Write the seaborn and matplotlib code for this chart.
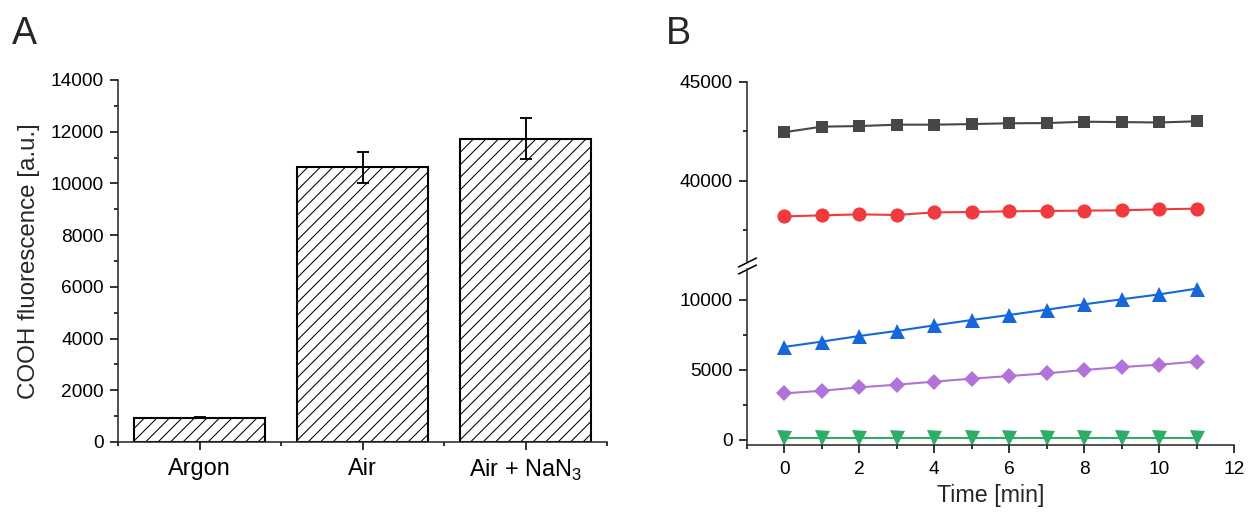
"""
plot.py

Two panel figure:
    A - COOH fluorescence per atmosphere (hatched bars + error bars)
    B - fluorescence vs time, broken y-axis
"""

import numpy as np
import pandas as pd
import matplotlib
matplotlib.use('Agg')
import matplotlib.pyplot as plt
from matplotlib.ticker import MultipleLocator, FixedLocator
import seaborn as sns

# ---------------------------- DATA -----------------------------------

# panel A
conditions = ["Argon", "Air", "Air + NaN$_\\mathregular{3}$"]
cooh_mean = [930, 10620, 11730]
cooh_err = [20, 600, 800]

# panel B
time_min = [0, 1, 2, 3, 4, 5, 6, 7, 8, 9, 10, 11]
s_black = [42450, 42730, 42760, 42830, 42830, 42860, 42900, 42910, 42980, 42960, 42940, 43000]
s_red = [38200, 38250, 38300, 38270, 38400, 38420, 38455, 38470, 38490, 38505, 38555, 38590]
s_blue = [6650, 7030, 7430, 7790, 8190, 8570, 8930, 9310, 9690, 10050, 10400, 10810]
s_purple = [3330, 3520, 3760, 3950, 4170, 4380, 4570, 4760, 5000, 5210, 5380, 5600]
s_green = [130, 130, 130, 130, 130, 130, 130, 130, 130, 130, 130, 130]

# ---------------------------- STYLE ----------------------------------

DPI = 150
FONT = "Liberation Sans"
TICK_FS = 9.2
LABEL_FS = 11.6

sns.set_theme(style="ticks")
plt.rcParams['font.family'] = [FONT, 'DejaVu Sans']
plt.rcParams['mathtext.fontset'] = 'custom'
plt.rcParams['mathtext.rm'] = FONT
plt.rcParams['hatch.linewidth'] = 0.5
plt.rcParams['axes.linewidth'] = 0.75
for ax_name in ("xtick", "ytick"):
    plt.rcParams[f'{ax_name}.direction'] = 'out'
    plt.rcParams[f'{ax_name}.major.width'] = 0.75
    plt.rcParams[f'{ax_name}.minor.width'] = 0.75
    plt.rcParams[f'{ax_name}.major.size'] = 3.8
    plt.rcParams[f'{ax_name}.minor.size'] = 2.0
    plt.rcParams[f'{ax_name}.labelsize'] = TICK_FS
    plt.rcParams[f'{ax_name}.color'] = 'black'
    plt.rcParams[f'{ax_name}.labelcolor'] = 'black'

W, H = 1248, 519
fig = plt.figure(figsize=(W / DPI, H / DPI), dpi=DPI)


def rect(x0, y0, x1, y1):
    # pixel box (top-left origin) -> figure fraction
    return [x0 / W, 1 - y1 / H, (x1 - x0) / W, (y1 - y0) / H]


# ---------------------------- PANEL A --------------------------------

axA = fig.add_axes(rect(118, 80, 607, 442))
dfA = pd.DataFrame({"condition": conditions, "value": cooh_mean})
sns.barplot(data=dfA, x="condition", y="value", ax=axA, color="white",
            edgecolor="black", linewidth=1.0, width=0.8, errorbar=None)
for bar in axA.patches:
    bar.set_hatch("////")
    bar.set_facecolor("white")
axA.errorbar(range(len(conditions)), cooh_mean, yerr=cooh_err, fmt="none",
             ecolor="black", elinewidth=0.9, capsize=3, capthick=0.9)

axA.set_xlim(-0.5, 2.5)
axA.set_ylim(0, 14000)
axA.yaxis.set_major_locator(MultipleLocator(2000))
axA.yaxis.set_minor_locator(MultipleLocator(1000))
axA.xaxis.set_minor_locator(FixedLocator([-0.5, 0.5, 1.5, 2.5]))
axA.set_xlabel("")
axA.set_ylabel("COOH fluorescence [a.u.]", fontsize=LABEL_FS, labelpad=5)
axA.tick_params(axis="x", which="major", pad=4, labelsize=11.3)
axA.tick_params(axis="y", pad=3)
sns.despine(ax=axA)

fig.text(12 / W, 1 - 44 / H, "A", fontsize=18)

# ---------------------------- PANEL B --------------------------------

axBt = fig.add_axes(rect(747, 81.7, 1234, 261.9))
axBb = fig.add_axes(rect(747, 269.2, 1234, 444.9))

series = [
    (axBt, s_black, "#474747", "s", 6.0),
    (axBt, s_red, "#f03a3d", "o", 6.8),
    (axBb, s_blue, "#1667d9", "^", 7.2),
    (axBb, s_purple, "#b273d9", "D", 5.6),
    (axBb, s_green, "#2fac66", "v", 7.2),
]
for ax, vals, col, mk, ms in series:
    sns.lineplot(x=time_min, y=vals, ax=ax, color=col, marker=mk,
                 markersize=ms, markeredgewidth=0, linewidth=1.0)

for ax in (axBt, axBb):
    ax.set_xlim(-1, 12)
    ax.xaxis.set_major_locator(MultipleLocator(2))
    ax.xaxis.set_minor_locator(MultipleLocator(1))
    ax.set_ylabel("")
    ax.tick_params(axis="y", pad=3)

axBt.set_ylim(35900, 45000)
axBt.yaxis.set_major_locator(MultipleLocator(5000))
axBt.yaxis.set_minor_locator(MultipleLocator(2500))
axBt.spines[["top", "right", "bottom"]].set_visible(False)
axBt.tick_params(axis="x", which="both", bottom=False, labelbottom=False)

axBb.set_ylim(-350, 12200)
axBb.yaxis.set_major_locator(MultipleLocator(5000))
axBb.yaxis.set_minor_locator(MultipleLocator(2500))
axBb.spines[["top", "right"]].set_visible(False)
axBb.set_xlabel("Time [min]", fontsize=11.2, labelpad=3)
axBb.tick_params(axis="x", pad=4)

# break marks on the y axis
brk = dict(marker=[(-1, -0.5), (1, 0.5)], markersize=9, linestyle="none",
           color="black", mec="black", mew=0.75, clip_on=False)
axBt.plot([0], [0], transform=axBt.transAxes, **brk)
axBb.plot([0], [1], transform=axBb.transAxes, **brk)

fig.text(666 / W, 1 - 44 / H, "B", fontsize=18)

fig.savefig("out.png", dpi=DPI, facecolor="white")
